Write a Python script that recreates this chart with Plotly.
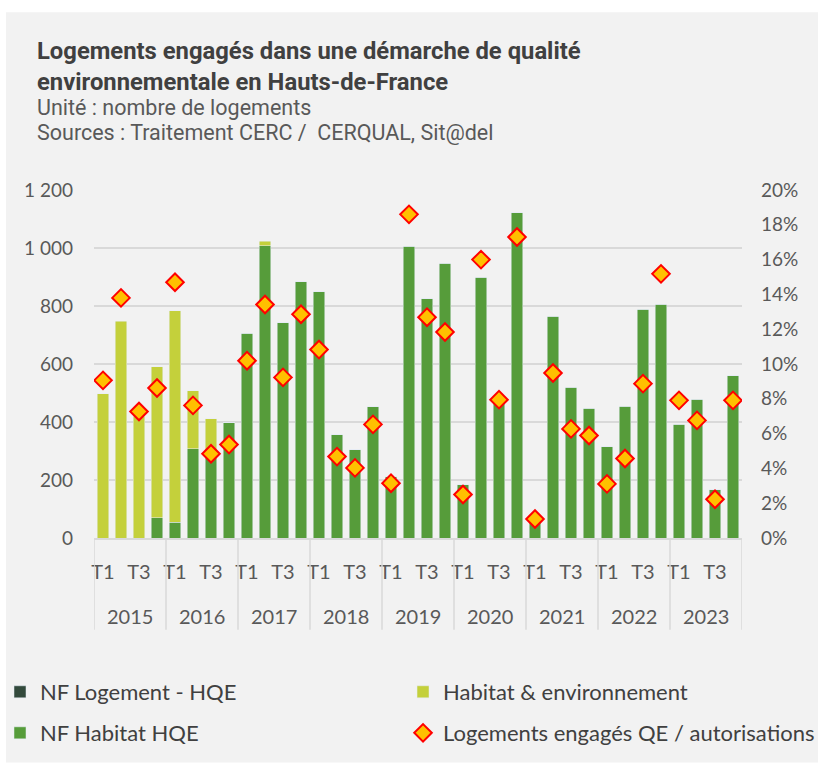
import plotly.graph_objects as go

# data
years = ["2015", "2016", "2017", "2018", "2019", "2020", "2021", "2022", "2023"]
quarters = ["T1", "T2", "T3", "T4"]

nf_logement_hqe = [0] * 36
nf_habitat_hqe = [0, 0, 0, 70, 54, 307, 300, 397, 706, 1008, 743, 884,
                  849, 356, 304, 453, 212, 1006, 825, 948, 184, 899, 475, 1122,
                  60, 765, 519, 448, 314, 454, 788, 806, 393, 479, 167, 559]
habitat_env = [497, 747, 420, 521, 729, 201, 111, 0, 0, 15, 0, 0,
               0, 0, 0, 0, 0, 0, 0, 0, 0, 0, 0, 0,
               0, 0, 0, 0, 0, 0, 0, 0, 0, 0, 0, 0]
taux_qe = [0.0906, 0.138, 0.0727, 0.0862, 0.147, 0.0762, 0.0484, 0.0537,
           0.1019, 0.1342, 0.0923, 0.1286, 0.1083, 0.0468, 0.0403, 0.0653,
           0.0315, 0.186, 0.1269, 0.1184, 0.025, 0.160, 0.0795, 0.173,
           0.0109, 0.0948, 0.0627, 0.0589, 0.0311, 0.0457, 0.0887, 0.1518,
           0.0791, 0.0676, 0.0223, 0.0791]

periods = [(y, q) for y in years for q in quarters]
idx = list(range(len(periods)))

FONT = "Lato"
GREY = "#595959"
LINE = "#D9D9D9"

fig = go.Figure()

fig.add_trace(go.Bar(x=idx, y=nf_logement_hqe, name="NF Logement - HQE",
                     marker_color="#334A3C", legend="legend"))
fig.add_trace(go.Bar(x=idx, y=nf_habitat_hqe, name="NF Habitat HQE",
                     marker_color="#569C3A", legend="legend3"))
fig.add_trace(go.Bar(x=idx, y=habitat_env, name="Habitat & environnement",
                     marker_color="#C4D03B", legend="legend2"))
fig.add_trace(go.Scatter(
    x=idx, y=taux_qe, yaxis="y2", mode="markers",
    name="Logements engagés QE / autorisations",
    marker=dict(symbol="diamond", size=13.5, color="#FFC000",
                line=dict(color="#FF0000", width=2)),
    legend="legend4",
))

# separators between years below the axis
for k in range(len(years) + 1):
    fig.add_shape(type="line", xref="x", yref="paper",
                  x0=k * 4 - 0.5, x1=k * 4 - 0.5, y0=0, y1=-0.264,
                  line=dict(color=LINE, width=1.5))

# year labels
for k, yr in enumerate(years):
    fig.add_annotation(x=k * 4 + 1.5, y=-0.224, xref="x", yref="paper",
                       yanchor="middle", text=yr, showarrow=False,
                       font=dict(family=FONT, size=20, color=GREY))

# background panel
fig.add_shape(type="rect", xref="paper", yref="paper", layer="below",
              x0=-0.1358, x1=1.13, y0=-0.645, y1=1.511,
              fillcolor="#F2F2F2", line_width=0)

# title and subtitle
fig.add_annotation(x=-0.091, y=1.3563, xref="paper", yref="paper",
                   xanchor="left", yanchor="middle", align="left", showarrow=False,
                   text="<b>Logements engagés dans une démarche de qualité<br>"
                        "environnementale en Hauts-de-France</b>",
                   font=dict(family="Roboto", size=23.8, color="#404040"))
fig.add_annotation(x=-0.091, y=1.2385, xref="paper", yref="paper",
                   xanchor="left", yanchor="middle", showarrow=False,
                   text="Unité : nombre de logements",
                   font=dict(family="Roboto", size=21.5, color=GREY))
fig.add_annotation(x=-0.091, y=1.1638, xref="paper", yref="paper",
                   xanchor="left", yanchor="middle", showarrow=False,
                   text="Sources : Traitement CERC / \u00a0CERQUAL, Sit@del",
                   font=dict(family="Roboto", size=21.5, color=GREY))

legend_style = dict(orientation="h", xref="container", yref="container",
                    xanchor="left", yanchor="middle",
                    bgcolor="rgba(0,0,0,0)",
                    font=dict(family=FONT, size=22, color="#404040"))

fig.update_layout(
    width=818, height=767,
    margin=dict(l=94, r=76, t=190, b=229, autoexpand=False),
    paper_bgcolor="white",
    plot_bgcolor="#F2F2F2",
    separators=", ",
    barmode="stack", bargap=0.35,
    font=dict(family=FONT, size=19, color=GREY),
    xaxis=dict(range=[-0.5, 35.5], automargin=False,
               tickvals=[i for i, p in zip(idx, periods) if p[1] in ("T1", "T3")],
               ticktext=[p[1] for p in periods if p[1] in ("T1", "T3")],
               showgrid=False, zeroline=False,
               showline=True, linecolor=LINE, linewidth=1.5,
               ticklabelstandoff=15,
               tickfont=dict(family=FONT, size=20, color=GREY)),
    yaxis=dict(range=[0, 1200], dtick=200, tickformat=",d", automargin=False,
               gridcolor=LINE, gridwidth=1.5, zeroline=False,
               ticklabelstandoff=20,
               tickfont=dict(family=FONT, size=19, color=GREY)),
    yaxis2=dict(range=[0, 0.20], dtick=0.02, tickformat=".0%", automargin=False,
                overlaying="y", side="right", showgrid=False, zeroline=False,
                ticklabelstandoff=18,
                tickfont=dict(family=FONT, size=19, color=GREY)),
    showlegend=True,
    legend=dict(x=-0.003, y=0.0978, **legend_style),
    legend2=dict(x=0.4927, y=0.0978, **legend_style),
    legend3=dict(x=-0.003, y=0.0443, **legend_style),
    legend4=dict(x=0.4927, y=0.0443, **legend_style),
)

# drop the default page margin so the figure fills the window exactly
fig.write_html("out.html",
               config={"displayModeBar": False},
               post_script="document.body.style.margin='0';"
                           "document.body.style.overflow='hidden';")
